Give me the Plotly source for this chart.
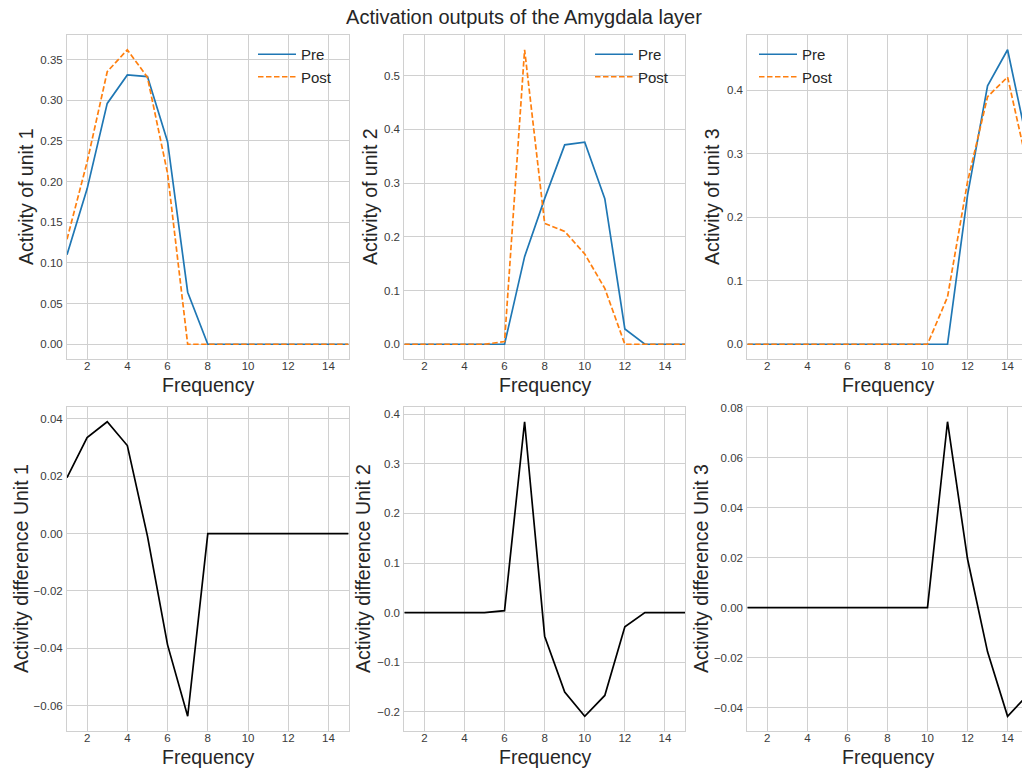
import plotly.graph_objects as go

# ---------------- data ----------------
freq = [1, 2, 3, 4, 5, 6, 7, 8, 9, 10, 11, 12, 13, 14, 15]

pre_u1 = [0.110, 0.191, 0.296, 0.331, 0.329, 0.249, 0.064, 0.0, 0.0, 0.0, 0.0, 0.0, 0.0, 0.0, 0.0]
post_u1 = [0.129, 0.224, 0.335, 0.362, 0.328, 0.210, 0.0, 0.0, 0.0, 0.0, 0.0, 0.0, 0.0, 0.0, 0.0]
diff_u1 = [0.0195, 0.0335, 0.039, 0.0307, -0.0009, -0.0388, -0.0637, 0.0, 0.0, 0.0, 0.0, 0.0, 0.0, 0.0, 0.0]

pre_u2 = [0.0, 0.0, 0.0, 0.0, 0.0, 0.0, 0.163, 0.271, 0.371, 0.376, 0.271, 0.0285, 0.0, 0.0, 0.0]
post_u2 = [0.0, 0.0, 0.0, 0.0, 0.0, 0.005, 0.548, 0.225, 0.210, 0.168, 0.104, 0.0, 0.0, 0.0, 0.0]
diff_u2 = [0.0, 0.0, 0.0, 0.0, 0.0, 0.004, 0.385, -0.0475, -0.160, -0.209, -0.167, -0.0285, 0.0, 0.0, 0.0]

pre_u3 = [0.0, 0.0, 0.0, 0.0, 0.0, 0.0, 0.0, 0.0, 0.0, 0.0, 0.0, 0.235, 0.407, 0.464, 0.315]
post_u3 = [0.0, 0.0, 0.0, 0.0, 0.0, 0.0, 0.0, 0.0, 0.0, 0.0, 0.0745, 0.256, 0.390, 0.421, 0.280]
diff_u3 = [0.0, 0.0, 0.0, 0.0, 0.0, 0.0, 0.0, 0.0, 0.0, 0.0, 0.0745, 0.0195, -0.0177, -0.0435, -0.035]

top_titles = ["Activity of unit 1", "Activity of unit 2", "Activity of unit 3"]
bottom_titles = ["Activity difference Unit 1", "Activity difference Unit 2", "Activity difference Unit 3"]
x_title = "Frequency"
series_names = ["Pre", "Post"]
suptitle = "Activation outputs of the Amygdala layer"

# ---------------- layout geometry ----------------
W, H = 1022, 771
col_px = [(67, 348.6), (404.3, 685.0), (747.3, 1022.0)]
row_px = [(35, 359), (407, 731)]
x_ranges = [[1, 15], [1, 15], [1, 14.72]]

FONT = "Liberation Sans, Arial, sans-serif"
TXT = "#262626"
GRID = "#d0d0d0"
BLUE = "#1f77b4"
ORANGE = "#ff7f0e"
DASH = "5.5px,2.5px"

def pad_range(*arrs):
    vals = [v for a in arrs for v in a]
    lo, hi = min(vals), max(vals)
    span = hi - lo
    return [lo - 0.05 * span, hi + 0.05 * span]

fig = go.Figure()

top_data = [(pre_u1, post_u1), (pre_u2, post_u2), (pre_u3, post_u3)]
bottom_data = [diff_u1, diff_u2, diff_u3]
top_fmt = [(".2f", 0.05), (".1f", 0.1), (".1f", 0.1)]
bot_fmt = [(".2f", 0.02), (".1f", 0.1), (".2f", 0.02)]

legend_names = ["legend", "legend2", "legend3"]
legend_pos = [259, 596, 760]  # line-sample left edge in px

annotations = []
layout_axes = {}

for c in range(3):
    for r in range(2):
        idx = r * 3 + c + 1
        xa = "x" if idx == 1 else f"x{idx}"
        ya = "y" if idx == 1 else f"y{idx}"
        xkey = "xaxis" if idx == 1 else f"xaxis{idx}"
        ykey = "yaxis" if idx == 1 else f"yaxis{idx}"
        x0, x1 = col_px[c]
        y0, y1 = row_px[r]
        if r == 0:
            pre, post = top_data[c]
            fig.add_trace(go.Scatter(x=freq, y=pre, mode="lines", name=series_names[0],
                                     line=dict(color=BLUE, width=1.7), xaxis=xa, yaxis=ya,
                                     legend=legend_names[c]))
            fig.add_trace(go.Scatter(x=freq, y=post, mode="lines", name=series_names[1],
                                     line=dict(color=ORANGE, width=1.7, dash=DASH), xaxis=xa, yaxis=ya,
                                     legend=legend_names[c]))
            yr = pad_range(pre, post)
            fmt, dt = top_fmt[c]
            ytitle = top_titles[c]
        else:
            d = bottom_data[c]
            fig.add_trace(go.Scatter(x=freq, y=d, mode="lines", showlegend=False,
                                     line=dict(color="black", width=1.7), xaxis=xa, yaxis=ya))
            yr = pad_range(d)
            fmt, dt = bot_fmt[c]
            ytitle = bottom_titles[c]

        common = dict(showgrid=True, gridcolor=GRID, gridwidth=1, showline=True, linecolor=GRID,
                      linewidth=1, mirror=True, ticks="", zeroline=False, automargin=False,
                      tickfont=dict(family=FONT, size=11.5, color="#3a3a3a"))
        layout_axes[xkey] = dict(common, domain=[x0 / W, x1 / W], range=x_ranges[c],
                                 anchor=ya, tick0=0, dtick=2, ticklabelstandoff=-4)
        layout_axes[ykey] = dict(common, domain=[1 - y1 / H, 1 - y0 / H], range=yr,
                                 anchor=xa, tickformat=fmt, tick0=0, dtick=dt, ticklabelstandoff=1)

        # x title
        xc = (x0 + 281.6 / 2) if c == 2 else (x0 + x1) / 2
        xt_y = 385 if r == 0 else 757
        annotations.append(dict(text=x_title, x=xc / W, y=1 - xt_y / H, xref="paper", yref="paper",
                                xanchor="center", yanchor="middle", showarrow=False,
                                font=dict(family=FONT, size=19.5, color=TXT)))
        # y title
        yt_x = [[26, 370, 712], [21, 363, 701]][r][c]
        annotations.append(dict(text=ytitle, x=yt_x / W, y=1 - ((y0 + y1) / 2) / H, xref="paper",
                                yref="paper", xanchor="center", yanchor="middle", showarrow=False,
                                textangle=-90, font=dict(family=FONT, size=19.5, color=TXT)))

leg_common = dict(bgcolor="rgba(0,0,0,0)", borderwidth=0, font=dict(family=FONT, size=15, color=TXT),
                  xanchor="left", yanchor="top", tracegroupgap=0, itemwidth=38)
legends = {}
for i, name in enumerate(legend_names):
    legends[name] = dict(leg_common, x=(legend_pos[i] - 6) / W, y=1 - 38 / H)

fig.update_layout(
    width=W, height=H,
    margin=dict(l=0, r=0, t=0, b=0, pad=0, autoexpand=False),
    paper_bgcolor="white", plot_bgcolor="white",
    font=dict(family=FONT, color=TXT),
    title=dict(text=suptitle, x=524 / W, y=1 - 17 / H, xanchor="center", yanchor="middle",
               automargin=False, font=dict(family=FONT, size=20, color=TXT)),
    annotations=annotations,
    **layout_axes,
    **legends,
)

fig.write_html("out.html")
